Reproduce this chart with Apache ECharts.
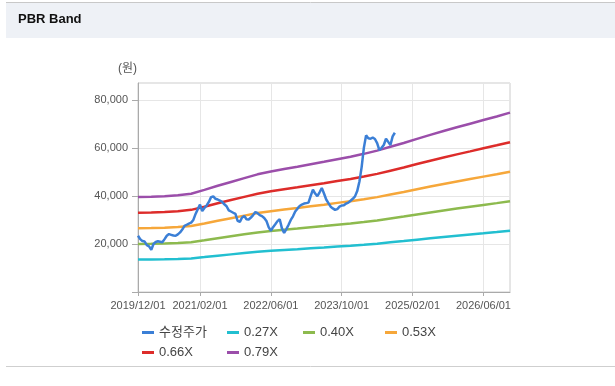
<!DOCTYPE html>
<html>
<head>
<meta charset="utf-8">
<script src="https://cdn.jsdelivr.net/npm/echarts@6/dist/echarts.min.js"></script>
<style>
html,body{margin:0;padding:0;background:#ffffff;}
#chart{width:615px;height:386px;}
</style>
</head>
<body>
<div id="chart"></div>
<script>
// Half-month categories from 2019/12/01 to 2026/12/01
const categories = [];
(function () {
  let y = 2019, m = 12;
  while (true) {
    const mm = String(m).padStart(2, '0');
    categories.push(y + '/' + mm + '/01');
    if (y === 2026 && m === 12) break;
    categories.push(y + '/' + mm + '/16');
    m++; if (m > 12) { m = 1; y++; }
  }
})();

const xTickLabels = ['2019/12/01', '2021/02/01', '2022/06/01', '2023/10/01', '2025/02/01', '2026/06/01'];
const yTickValues = [20000, 40000, 60000, 80000];

// Adjusted price, half-monthly from 2019/12/01
const priceValues = [
  23400, 22000, 21200, 21000, 19500, 19000, 17600, 20000, 20800, 21100,
  20900, 20700, 22000, 23400, 24100, 23800, 23500, 23400, 24000, 24800,
  26000, 27500, 28000, 28500, 28900, 30000, 32500, 34500, 36400, 33700,
  35000, 36000, 37500, 39500, 39800, 38800, 38500, 38000, 37500, 36500,
  35700, 34000, 33500, 33000, 32500, 29600, 29200, 31000, 31600, 30300,
  30200, 31000, 32000, 33300, 32800, 32000, 31600, 30800, 29600, 27000,
  25500, 27000, 28200, 29500, 30300, 26500, 24600, 26200, 28000, 30000,
  31500, 33500, 34700, 35800, 36400, 36800, 37000, 37200, 40000, 42600,
  41000, 39900, 41500, 43300, 41000, 38500, 37000, 35500, 34800, 34200,
  34500, 35500, 36000, 36100, 36800, 37200, 38000, 38800, 39800, 42000,
  46000, 52000, 60000, 65200, 64000, 63800, 64300, 63700, 62000, 59100,
  60000, 61200, 63800, 62500, 61200, 64800, 66300
];

// Quarterly dates for the PBR bands
const bandDates = [
  '2019/12/01', '2020/03/01', '2020/06/01', '2020/09/01', '2020/12/01',
  '2021/03/01', '2021/06/01', '2021/09/01', '2021/12/01', '2022/03/01',
  '2022/06/01', '2022/09/01', '2022/12/01', '2023/03/01', '2023/06/01',
  '2023/09/01', '2023/12/01', '2024/03/01', '2024/06/01', '2024/09/01',
  '2024/12/01', '2025/03/01', '2025/06/01', '2025/09/01', '2025/12/01',
  '2026/03/01', '2026/06/01', '2026/09/01', '2026/12/01'
];
const band027 = [13500, 13550, 13640, 13770, 13990, 14530, 15120, 15660, 16200, 16740, 17150, 17500, 17820, 18170, 18520, 18900, 19250, 19660, 20120, 20660, 21200, 21790, 22360, 22900, 23440, 23950, 24460, 24980, 25520];
const band040 = [20000, 20080, 20200, 20400, 20720, 21520, 22400, 23200, 24000, 24800, 25400, 25920, 26400, 26920, 27440, 28000, 28520, 29120, 29800, 30600, 31400, 32280, 33120, 33920, 34720, 35480, 36240, 37000, 37800];
const band053 = [26500, 26610, 26770, 27030, 27450, 28510, 29680, 30740, 31800, 32860, 33660, 34340, 34980, 35670, 36360, 37100, 37790, 38580, 39490, 40550, 41610, 42770, 43880, 44940, 46000, 47010, 48020, 49030, 50090];
const band066 = [33000, 33130, 33330, 33660, 34190, 35510, 36960, 38280, 39600, 40920, 41910, 42770, 43560, 44420, 45280, 46200, 47060, 48050, 49170, 50490, 51810, 53260, 54650, 55970, 57290, 58540, 59800, 61050, 62370];
const band079 = [39500, 39660, 39900, 40290, 40920, 42500, 44240, 45820, 47400, 48980, 50170, 51190, 52140, 53170, 54190, 55300, 56330, 57510, 58860, 60440, 62020, 63750, 65410, 66990, 68570, 70070, 71570, 73080, 74660];

const seriesNames = ['수정주가', '0.27X', '0.40X', '0.53X', '0.66X', '0.79X'];
const seriesColors = ['#3b7fd6', '#22bfd0', '#8dba4e', '#f6a73a', '#dd2c2a', '#9b4eaa'];

const pairs = (dates, vals) => vals.map((v, k) => [dates[k], v]);
const bandSets = [band027, band040, band053, band066, band079];

const FONT = "'Liberation Sans', Arial, 'Noto Sans CJK KR', sans-serif";

const chart = echarts.init(document.getElementById('chart'), null, { renderer: 'canvas' });

const series = [];
bandSets.forEach((b, k) => {
  series.push({
    name: seriesNames[k + 1], type: 'line', data: pairs(bandDates, b),
    showSymbol: false, symbol: 'none', z: 2,
    lineStyle: { width: 2.5, color: seriesColors[k + 1] },
    itemStyle: { color: seriesColors[k + 1] }
  });
});
series.push({
  name: seriesNames[0], type: 'line', data: pairs(categories, priceValues),
  showSymbol: false, symbol: 'none', z: 3,
  lineStyle: { width: 2.5, color: seriesColors[0] },
  itemStyle: { color: seriesColors[0] }
});

const legendPos = [[142, 326], [227, 326], [303, 326], [385, 326], [142, 346], [227, 346]];
const legends = seriesNames.map((n, k) => ({
  data: [n], left: legendPos[k][0], top: legendPos[k][1],
  itemWidth: 12, itemHeight: 3, icon: 'rect', itemGap: 0, padding: 0,
  textStyle: { fontSize: 13, color: '#444', fontFamily: FONT }
}));

chart.setOption({
  animation: false,
  backgroundColor: '#ffffff',
  textStyle: { fontFamily: FONT },
  graphic: [
    { type: 'rect', shape: { x: 6, y: 3, width: 609, height: 35 }, style: { fill: '#eef1f6' }, z: -10 },
    { type: 'line', shape: { x1: 6, y1: 2.5, x2: 615, y2: 2.5 }, style: { stroke: '#c8c8c8', lineWidth: 1 }, z: -9 },
    { type: 'line', shape: { x1: 6, y1: 366.5, x2: 615, y2: 366.5 }, style: { stroke: '#cfcfcf', lineWidth: 1 }, z: -9 },
    { type: 'text', left: 18, top: 13, style: { text: 'PBR Band', font: "bold 13px " + FONT, fill: '#111' } },
    { type: 'text', left: 118, top: 63, style: { text: '(원)', font: "12px " + FONT, fill: '#555' } }
  ],
  legend: legends,
  grid: { left: 138, right: 105, top: 83, bottom: 94, show: true, borderColor: '#cccccc', borderWidth: 1, backgroundColor: 'transparent' },
  xAxis: {
    type: 'category', data: categories, boundaryGap: false,
    axisLine: { lineStyle: { color: '#aaaaaa', width: 1 } },
    axisTick: { show: true, length: 4, interval: (i, v) => xTickLabels.includes(v), lineStyle: { color: '#aaaaaa' } },
    axisLabel: { interval: (i, v) => xTickLabels.includes(v), color: '#555', fontSize: 11, margin: 8, fontFamily: FONT },
    splitLine: { show: true, interval: (i, v) => xTickLabels.includes(v), lineStyle: { color: '#e6e6e6', width: 1 } }
  },
  yAxis: {
    type: 'value', min: 0, max: 87000, interval: 20000,
    axisLine: { show: true, lineStyle: { color: '#aaaaaa', width: 1 } },
    axisTick: { show: true, length: 6, lineStyle: { color: '#aaaaaa' } },
    axisLabel: {
      color: '#555', fontSize: 11, margin: 10, fontFamily: FONT, showMaxLabel: false,
      formatter: v => yTickValues.includes(v) ? v.toLocaleString('en-US') : ''
    },
    splitLine: { show: true, lineStyle: { color: '#e6e6e6', width: 1 } }
  },
  series: series
});
</script>
</body>
</html>
